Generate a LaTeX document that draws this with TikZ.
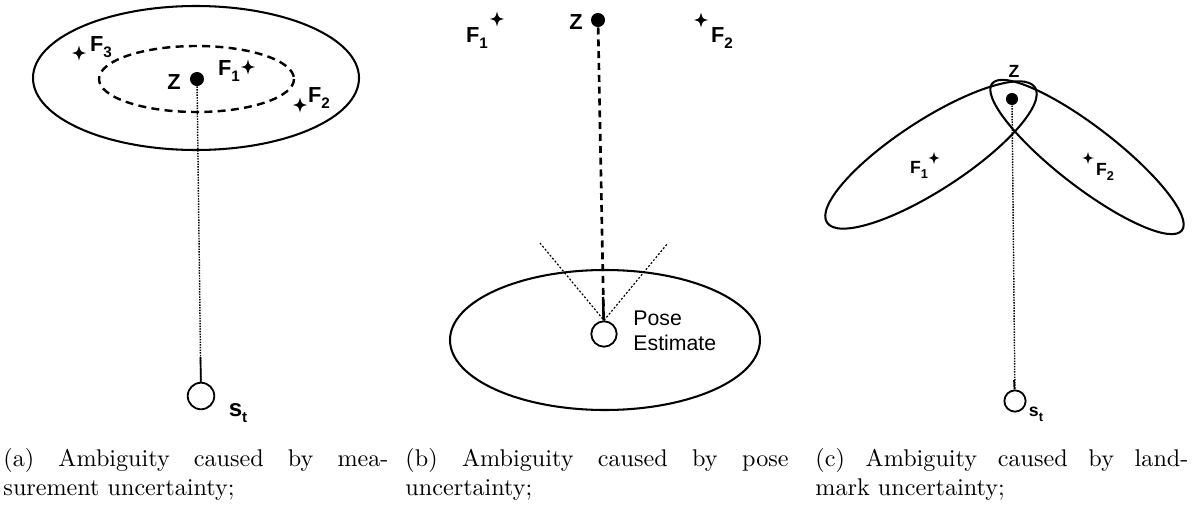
\documentclass[tikz,border=0pt]{standalone}
\usepackage{fontspec}
\newfontfamily\labfont{Liberation Sans}
\newcommand{\subA}[1]{\raisebox{-2.7pt}{\fontsize{6.3}{6.3}\selectfont #1}}
\newcommand{\subC}[1]{\raisebox{-2.2pt}{\fontsize{5.3}{5.3}\selectfont #1}}
\tikzset{
  ell/.style={line width=0.85pt},
  dashell/.style={line width=1pt, dash pattern=on 3.3pt off 2.2pt},
  bdash/.style={line width=1.1pt, dash pattern=on 2.9pt off 2pt},
  ray/.style={line width=0.6pt, dash pattern=on 0.6pt off 0.5pt},
  vray/.style={line width=0.5pt, dash pattern=on 0.8pt off 0.8pt},
  zdot/.style={circle, fill=black, inner sep=0pt, minimum size=5.8pt},
  posec/.style={circle, draw, line width=0.75pt, inner sep=0pt, fill=white},
  lab/.style={inner sep=0pt, font=\labfont\bfseries\fontsize{9}{10}\selectfont},
  labc/.style={inner sep=0pt, font=\labfont\bfseries\fontsize{7.3}{8}\selectfont},
  capt/.style={anchor=north west, inner sep=0pt, align=justify, font=\rmfamily\fontsize{10}{12}\selectfont},
  fstar/.pic={\fill (0,-7.5) .. controls (1.4,-1.4) .. (7,0) .. controls (1.4,1.4) .. (0,7.5) .. controls (-1.4,1.4) .. (-7,0) .. controls (-1.4,-1.4) .. cycle;}
}
\begin{document}
\begin{tikzpicture}[x=0.414pt,y=-0.414pt]
\useasboundingbox (0,0) rectangle (1200,505);
% ---------- (a)
\draw[ell] (196,78) ellipse [x radius=163, y radius=72];
\draw[dashell] (196.5,79) ellipse [x radius=97.5, y radius=33];
\node[zdot] (Za) at (197,79) {};
\node[posec, minimum size=11pt] (sa) at (201,396) {};
\coordinate (saend) at (200.5,357);
\draw[ray] (Za) -- (sa);
\draw[line width=0.7pt] (saend) -- (sa);
\node[lab] (Zla) at (174,82) {Z};
\pic at (248,67) {fstar};
\node[lab] (F1a) at (229,71) {F\subA{1}};
\pic at (79,53) {fstar};
\node[lab] (F3a) at (101,47) {F\subA{3}};
\pic at (300,105) {fstar};
\node[lab] (F2a) at (319,98) {F\subA{2}};
\node[lab, font=\labfont\bfseries\fontsize{10}{10}\selectfont] (sla) at (238,413) {s\subA{t}};
% ---------- (b)
\draw[ell] (605,340) ellipse [x radius=155, y radius=70];
\node[zdot] (Zb) at (598,20) {};
\node[posec, minimum size=10.5pt] (sb) at (604,334) {};
\coordinate (vl) at (540,243);
\coordinate (vr) at (668,243);
\coordinate (sbend) at (603,297);
\draw[bdash] (Zb) -- (sb);
\draw[line width=1pt] (sbend) -- (sb);
\draw[vray] (vl) -- (sb.north) -- (vr);
\node[lab] (Zlb) at (576,22) {Z};
\pic at (497,19) {fstar};
\node[lab] (F1b) at (477,38) {F\subA{1}};
\pic at (701,20) {fstar};
\node[lab] (F2b) at (722,38) {F\subA{2}};
\node[anchor=north west, inner sep=0pt, align=left, font=\labfont\fontsize{8.8}{10.4}\selectfont] (pe) at (633,310) {Pose\\Estimate};
% ---------- (c)
\draw[ell, rotate around={33:(931,155)}] (931,155) ellipse [x radius=124, y radius=35];
\draw[ell, rotate around={-37.7:(1087,157)}] (1087,157) ellipse [x radius=120, y radius=30];
\node[zdot, minimum size=5pt] (Zc) at (1012,99) {};
\node[posec, minimum size=8.8pt] (sc) at (1015,401) {};
\coordinate (scend) at (1014,380);
\draw[ray] (Zc) -- (sc);
\draw[line width=0.7pt] (scend) -- (sc);
\node[labc] (Zlc) at (1014,71) {Z};
\pic[scale=0.8] at (934,158) {fstar};
\node[labc] (F1c) at (919,170) {F\subC{1}};
\pic[scale=0.8] at (1088,158) {fstar};
\node[labc] (F2c) at (1105,172) {F\subC{2}};
\node[labc] (slc) at (1036,414) {s\subC{t}};
% ---------- captions
\node[capt, text width=159.4pt] (capa) at (3,448) {(a) Ambiguity caused by mea-\linebreak surement uncertainty;};
\node[capt, text width=158.6pt] (capb) at (405,448) {(b) Ambiguity caused by pose\linebreak uncertainty;};
\node[capt, text width=154.4pt] (capc) at (815,448) {(c) Ambiguity caused by land-\linebreak mark uncertainty;};
\end{tikzpicture}
\end{document}
